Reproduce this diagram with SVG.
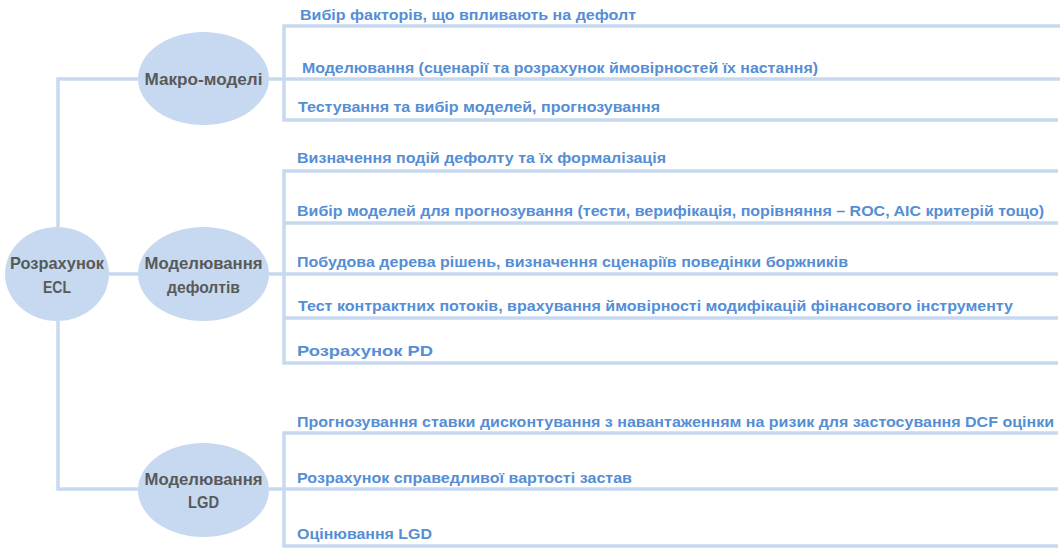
<svg xmlns="http://www.w3.org/2000/svg" width="1064" height="551" viewBox="0 0 1064 551">
<style>
.ln{fill:none;stroke:#c6d9f0;stroke-width:3.5}
.el{fill:#c6d9f0}
.nt{font-family:"Liberation Sans",Arial,sans-serif;font-weight:bold;font-size:17px;fill:#595959;text-anchor:middle}
.it{font-family:"Liberation Sans",Arial,sans-serif;font-weight:bold;font-size:15.5px;fill:#558ed5}
</style>
<rect width="1064" height="551" fill="#ffffff"/>
<g id="connectors">
<path class="ln" d="M138,79 H58 V227"/>
<path class="ln" d="M58,321 V489 H138"/>
<path class="ln" d="M109,274 H138"/>
<path class="ln" d="M269,79 H1060"/>
<path class="ln" d="M1060,26 H284 V120 H1058"/>
<path class="ln" d="M269,274 H1058"/>
<path class="ln" d="M1058,171 H284 V363 H1058"/>
<path class="ln" d="M284,223 H1058"/>
<path class="ln" d="M284,318 H1058"/>
<path class="ln" d="M269,489 H1058"/>
<path class="ln" d="M1058,433 H284 V546 H1058"/>
</g>
<g id="root">
<ellipse class="el" cx="57" cy="274" rx="52" ry="47"/>
<text class="nt" x="57" y="269" textLength="94" lengthAdjust="spacingAndGlyphs">Розрахунок</text>
<text class="nt" x="57" y="293" textLength="28" lengthAdjust="spacingAndGlyphs">ECL</text>
</g>
<g id="macro">
<ellipse class="el" cx="203.5" cy="78.5" rx="65.5" ry="46.5"/>
<text class="nt" x="203.5" y="85" textLength="118" lengthAdjust="spacingAndGlyphs">Макро-моделі</text>
</g>
<g id="defaults">
<ellipse class="el" cx="203.5" cy="274" rx="65.5" ry="47"/>
<text class="nt" x="203.5" y="269" textLength="118" lengthAdjust="spacingAndGlyphs">Моделювання</text>
<text class="nt" x="203.5" y="293" textLength="73" lengthAdjust="spacingAndGlyphs">дефолтів</text>
</g>
<g id="lgd">
<ellipse class="el" cx="203.5" cy="490" rx="65.5" ry="47"/>
<text class="nt" x="203.5" y="485" textLength="118" lengthAdjust="spacingAndGlyphs">Моделювання</text>
<text class="nt" x="203.5" y="508" textLength="31" lengthAdjust="spacingAndGlyphs">LGD</text>
</g>
<g id="macro-items">
<text class="it" x="300" y="20" textLength="336" lengthAdjust="spacingAndGlyphs">Вибір факторів, що впливають на дефолт</text>
<text class="it" x="302" y="73" textLength="516" lengthAdjust="spacingAndGlyphs">Моделювання (сценарії та розрахунок ймовірностей їх настання)</text>
<text class="it" x="298" y="112" textLength="362" lengthAdjust="spacingAndGlyphs">Тестування та вибір моделей, прогнозування</text>
</g>
<g id="default-items">
<text class="it" x="297" y="163" textLength="369" lengthAdjust="spacingAndGlyphs">Визначення подій дефолту та їх формалізація</text>
<text class="it" x="297" y="216" textLength="747" lengthAdjust="spacingAndGlyphs">Вибір моделей для прогнозування (тести, верифікація, порівняння – ROC, AIC критерій тощо)</text>
<text class="it" x="297" y="267" textLength="551" lengthAdjust="spacingAndGlyphs">Побудова дерева рішень, визначення сценаріїв поведінки боржників</text>
<text class="it" x="298" y="311" textLength="715" lengthAdjust="spacingAndGlyphs">Тест контрактних потоків, врахування ймовірності модифікацій фінансового інструменту</text>
<text class="it" x="297" y="356" textLength="136" lengthAdjust="spacingAndGlyphs">Розрахунок PD</text>
</g>
<g id="lgd-items">
<text class="it" x="297" y="427" textLength="757" lengthAdjust="spacingAndGlyphs">Прогнозування ставки дисконтування з навантаженням на ризик для застосування DCF оцінки</text>
<text class="it" x="297" y="483" textLength="335" lengthAdjust="spacingAndGlyphs">Розрахунок справедливої вартості застав</text>
<text class="it" x="297" y="539" textLength="135" lengthAdjust="spacingAndGlyphs">Оцінювання LGD</text>
</g>
</svg>
